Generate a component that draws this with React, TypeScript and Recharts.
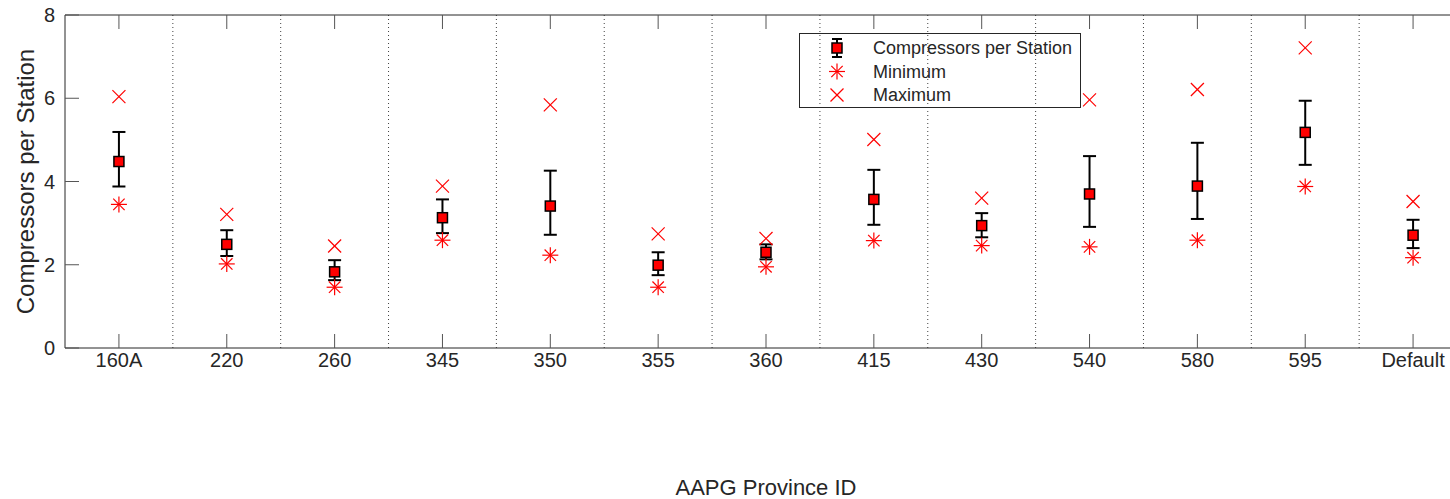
import { ComposedChart, Scatter, XAxis, YAxis, ErrorBar, ReferenceLine, Legend } from "recharts"

const provinces = ["160A", "220", "260", "345", "350", "355", "360", "415", "430", "540", "580", "595", "Default"]
const meanValues = [4.48, 2.49, 1.83, 3.13, 3.41, 1.99, 2.3, 3.57, 2.94, 3.7, 3.89, 5.18, 2.71]
const upperValues = [5.19, 2.83, 2.11, 3.57, 4.26, 2.3, 2.49, 4.28, 3.24, 4.61, 4.93, 5.94, 3.08]
const lowerValues = [3.88, 2.21, 1.63, 2.76, 2.72, 1.75, 2.13, 2.96, 2.66, 2.91, 3.1, 4.4, 2.4]
const minValues = [3.45, 2.02, 1.46, 2.59, 2.23, 1.46, 1.95, 2.58, 2.46, 2.43, 2.59, 3.88, 2.17]
const maxValues = [6.04, 3.21, 2.45, 3.89, 5.84, 2.74, 2.63, 5.01, 3.6, 5.96, 6.21, 7.21, 3.52]
const yTicks = [0, 2, 4, 6, 8]

const data = provinces.map((id, i) => ({
  x: i,
  id,
  mean: meanValues[i],
  err: [meanValues[i] - lowerValues[i], upperValues[i] - meanValues[i]],
  min: minValues[i],
  max: maxValues[i],
}))

const xTicks = provinces.map((_, i) => i)
const separators = provinces.slice(1).map((_, i) => i + 0.5)

const AXIS = "#262626"
const TICK = "#555"
const RED = "#ff0000"
const FONT = "'Liberation Sans', Arial, Helvetica, sans-serif"
const TICK_LEN = 14

function SquareMark(props: any) {
  const { cx, cy } = props
  return <rect x={cx - 5} y={cy - 5} width={10} height={10} fill={RED} stroke="#000" strokeWidth={1.5} />
}

function StarMark(props: any) {
  const { cx, cy } = props
  const r = 8
  const d = 5.7
  return (
    <g stroke={RED} strokeWidth={1.2}>
      <line x1={cx - r} y1={cy} x2={cx + r} y2={cy} />
      <line x1={cx} y1={cy - r} x2={cx} y2={cy + r} />
      <line x1={cx - d} y1={cy - d} x2={cx + d} y2={cy + d} />
      <line x1={cx - d} y1={cy + d} x2={cx + d} y2={cy - d} />
    </g>
  )
}

function CrossMark(props: any) {
  const { cx, cy } = props
  const d = 6.5
  return (
    <g stroke={RED} strokeWidth={1.2}>
      <line x1={cx - d} y1={cy - d} x2={cx + d} y2={cy + d} />
      <line x1={cx - d} y1={cy + d} x2={cx + d} y2={cy - d} />
    </g>
  )
}

// bottom axis: tickMargin 5, label below, tick line pointing into the plot
function BottomTick(props: any) {
  const { x, y, payload } = props
  const axisY = y - 5
  return (
    <g>
      <line x1={x} x2={x} y1={axisY} y2={axisY - TICK_LEN} stroke={TICK} strokeWidth={1} />
      <text x={x} y={y} dy="0.72em" textAnchor="middle" fontSize={20} fill={AXIS}>
        {provinces[payload.value]}
      </text>
    </g>
  )
}

function TopTick(props: any) {
  const { x, y } = props
  return <line x1={x} x2={x} y1={y} y2={y + TICK_LEN} stroke={TICK} strokeWidth={1} />
}

// left axis: tickMargin 10
function LeftTick(props: any) {
  const { x, y, payload } = props
  const axisX = x + 10
  return (
    <g>
      <line x1={axisX} x2={axisX + TICK_LEN} y1={y} y2={y} stroke={TICK} strokeWidth={1} />
      <text x={x} y={y} textAnchor="end" dominantBaseline="central" fontSize={20} fill={AXIS}>
        {payload.value}
      </text>
    </g>
  )
}

function YLabel(props: any) {
  const vb = props.viewBox || { x: 0, y: 0, width: 0, height: 0 }
  const x = vb.x + 25
  const y = vb.y + vb.height / 2
  return (
    <text x={x} y={y} transform={`rotate(-90 ${x} ${y})`} textAnchor="middle" dominantBaseline="central" fontSize={24} fill={AXIS}>
      Compressors per Station
    </text>
  )
}

function LegendBox() {
  const rows = [
    { label: "Compressors per Station", kind: "mean" },
    { label: "Minimum", kind: "min" },
    { label: "Maximum", kind: "max" },
  ]
  return (
    <svg width={283} height={76} style={{ display: "block", fontFamily: FONT }}>
      <rect x={0.5} y={0.5} width={281} height={74} fill="none" stroke={AXIS} strokeWidth={1} />
      {rows.map((r, i) => {
        const cy = 15 + i * 23.5
        const cx = 38
        return (
          <g key={r.label}>
            {r.kind === "mean" && (
              <g>
                <line x1={cx} y1={cy - 9} x2={cx} y2={cy + 9} stroke="#000" strokeWidth={2} />
                <line x1={cx - 5} y1={cy - 9} x2={cx + 5} y2={cy - 9} stroke="#000" strokeWidth={2} />
                <line x1={cx - 5} y1={cy + 9} x2={cx + 5} y2={cy + 9} stroke="#000" strokeWidth={2} />
                <SquareMark cx={cx} cy={cy} />
              </g>
            )}
            {r.kind === "min" && <StarMark cx={cx} cy={cy} />}
            {r.kind === "max" && <CrossMark cx={cx} cy={cy} />}
            <text x={74} y={cy} dominantBaseline="central" fontSize={18} fill={AXIS}>
              {r.label}
            </text>
          </g>
        )
      })}
    </svg>
  )
}

export default function App() {
  return (
    <div
      style={{
        position: "fixed",
        left: 0,
        top: 0,
        width: 1450,
        height: 499,
        overflow: "hidden",
        background: "#fff",
        fontFamily: FONT,
      }}
    >
      <ComposedChart width={1490} height={499} data={data} margin={{ top: 14, right: 23, bottom: 0, left: 0 }}>
        {separators.map((s) => (
          <ReferenceLine key={s} x={s} stroke="#404040" strokeDasharray="1 3" strokeWidth={1} />
        ))}
        <XAxis
          type="number"
          dataKey="x"
          domain={[-0.5, 12.5]}
          ticks={xTicks}
          interval={0}
          tickLine={false}
          tickSize={0}
          tickMargin={5}
          height={151}
          stroke={AXIS}
          tick={BottomTick}
          allowDataOverflow
          label={{ value: "AAPG Province ID", position: "insideBottom", offset: 4, fontSize: 22, fill: AXIS }}
        />
        <XAxis
          xAxisId="top"
          orientation="top"
          type="number"
          dataKey="x"
          domain={[-0.5, 12.5]}
          ticks={xTicks}
          interval={0}
          tickLine={false}
          tickSize={0}
          tickMargin={0}
          height={1}
          stroke={AXIS}
          tick={TopTick}
          allowDataOverflow
        />
        <YAxis
          domain={[0, 8]}
          ticks={yTicks}
          width={65}
          tickLine={false}
          tickSize={0}
          tickMargin={10}
          stroke={AXIS}
          tick={LeftTick}
          allowDataOverflow
          label={{ content: YLabel }}
        />
        <Scatter dataKey="mean" shape={SquareMark} isAnimationActive={false}>
          <ErrorBar dataKey="err" direction="y" width={6.5} stroke="#000" strokeWidth={2} />
        </Scatter>
        <Scatter dataKey="min" shape={StarMark} isAnimationActive={false} />
        <Scatter dataKey="max" shape={CrossMark} isAnimationActive={false} />
        <Legend
          layout="vertical"
          align="center"
          verticalAlign="middle"
          content={() => <LegendBox />}
          wrapperStyle={{ position: "absolute", left: 799, top: 33, width: 283, height: 76 }}
        />
      </ComposedChart>
    </div>
  )
}
